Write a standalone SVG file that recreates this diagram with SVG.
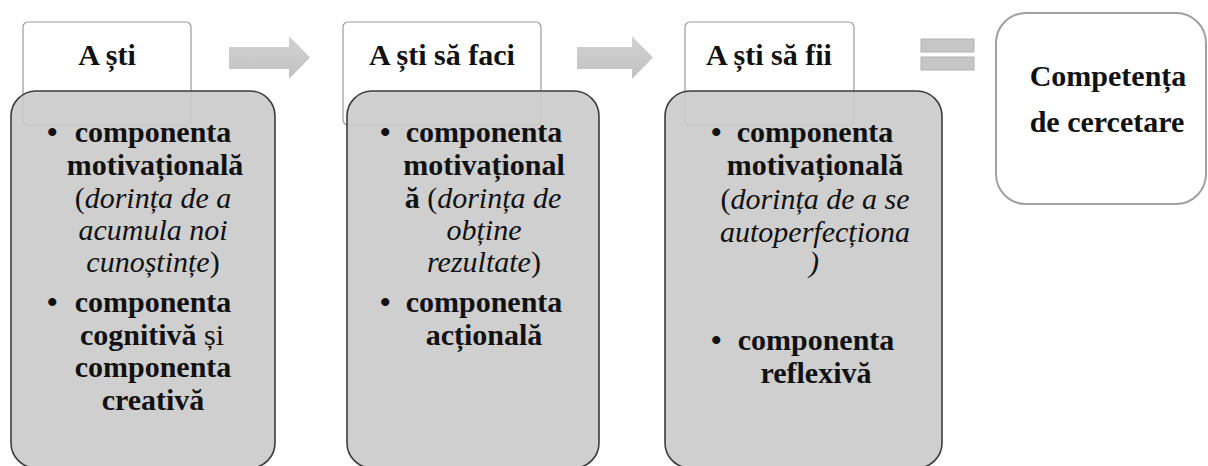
<svg xmlns="http://www.w3.org/2000/svg" width="1208" height="466" viewBox="0 0 1208 466">
<style>
.hdr{fill:#fff;stroke:#9a9a9a;stroke-width:1.2}
.body{fill:#cacaca;fill-opacity:0.9;stroke:#3c3c3c;stroke-width:1.6}
.t{font-size:30px;fill:#111}
.b{font-weight:bold}
.i{font-style:italic}
.n{font-weight:normal;font-style:normal}
.arr{fill:url(#g);stroke:none}
.eq{fill:#c6c6c6;stroke:#b2b2b2;stroke-width:1}
.fin{fill:#fff;stroke:#a0a0a0;stroke-width:2}
</style>
<defs>
<linearGradient id="g" x1="0" y1="0" x2="0" y2="1">
<stop offset="0" stop-color="#d2d2d2"/>
<stop offset="1" stop-color="#c2c2c2"/>
</linearGradient>
</defs>
<g id="connectors">
<path class="arr" d="M229,47 H289 V36 L310,57.5 L289,79 V69 H229 Z"/>
<path class="arr" d="M577,47 H632 V36 L653,57.5 L632,79 V69 H577 Z"/>
<rect class="eq" x="921" y="39" width="53" height="13"/>
<rect class="eq" x="921" y="57" width="53" height="13"/>
</g>
<g id="node-a-sti">
<rect class="hdr" x="23" y="22" width="168" height="103" rx="5"/>
<rect class="body" x="11" y="91" width="264" height="377" rx="25"/>
<g class="t" font-family="Liberation Serif, serif">
<text class="b" x="107" y="65" text-anchor="middle">A ști</text>
<text class="b" x="47" y="142">•</text>
<text class="b" x="47" y="312">•</text>
<g text-anchor="middle">
<text class="b" x="153" y="142">componenta</text>
<text class="b" x="155" y="175">motivațională</text>
<text x="153" y="208"><tspan>(</tspan><tspan class="i">dorința de a</tspan></text>
<text class="i" x="153" y="240">acumula noi</text>
<text x="153" y="272"><tspan class="i">cunoștințe</tspan><tspan>)</tspan></text>
<text class="b" x="153" y="312">componenta</text>
<text x="152" y="345"><tspan class="b">cognitivă</tspan><tspan class="n"> și</tspan></text>
<text class="b" x="153" y="377">componenta</text>
<text class="b" x="153" y="410">creativă</text>
</g>
</g>
</g>
<g id="node-a-sti-sa-faci">
<rect class="hdr" x="343" y="22" width="198" height="103" rx="5"/>
<rect class="body" x="347" y="91" width="252" height="377" rx="25"/>
<g class="t" font-family="Liberation Serif, serif">
<text class="b" x="442" y="65" text-anchor="middle">A ști să faci</text>
<text class="b" x="380" y="142">•</text>
<text class="b" x="380" y="312">•</text>
<g text-anchor="middle">
<text class="b" x="484" y="142">componenta</text>
<text class="b" x="484" y="175">motivațional</text>
<text x="483" y="208"><tspan class="b">ă</tspan><tspan> (</tspan><tspan class="i">dorința de</tspan></text>
<text class="i" x="484" y="240">obține</text>
<text x="484" y="272"><tspan class="i">rezultate</tspan><tspan>)</tspan></text>
<text class="b" x="484" y="312">componenta</text>
<text class="b" x="484" y="345">acțională</text>
</g>
</g>
</g>
<g id="node-a-sti-sa-fii">
<rect class="hdr" x="685" y="22" width="169" height="103" rx="5"/>
<rect class="body" x="665" y="91" width="277" height="377" rx="25"/>
<g class="t" font-family="Liberation Serif, serif">
<text class="b" x="769" y="65" text-anchor="middle">A ști să fii</text>
<text class="b" x="711" y="142">•</text>
<text class="b" x="711" y="350">•</text>
<g text-anchor="middle">
<text class="b" x="815" y="142">componenta</text>
<text class="b" x="815" y="175">motivațională</text>
<text x="815" y="209"><tspan>(</tspan><tspan class="i">dorința de a se</tspan></text>
<text class="i" x="815" y="242">autoperfecționa</text>
<text class="i" x="814" y="272">)</text>
<text class="b" x="816" y="350">componenta</text>
<text class="b" x="816" y="383">reflexivă</text>
</g>
</g>
</g>
<g id="node-competenta">
<rect class="fin" x="996" y="13" width="210" height="191" rx="30"/>
<g class="t b" font-family="Liberation Serif, serif" text-anchor="middle">
<text x="1108" y="86">Competența</text>
<text x="1107" y="132">de cercetare</text>
</g>
</g>
</svg>
